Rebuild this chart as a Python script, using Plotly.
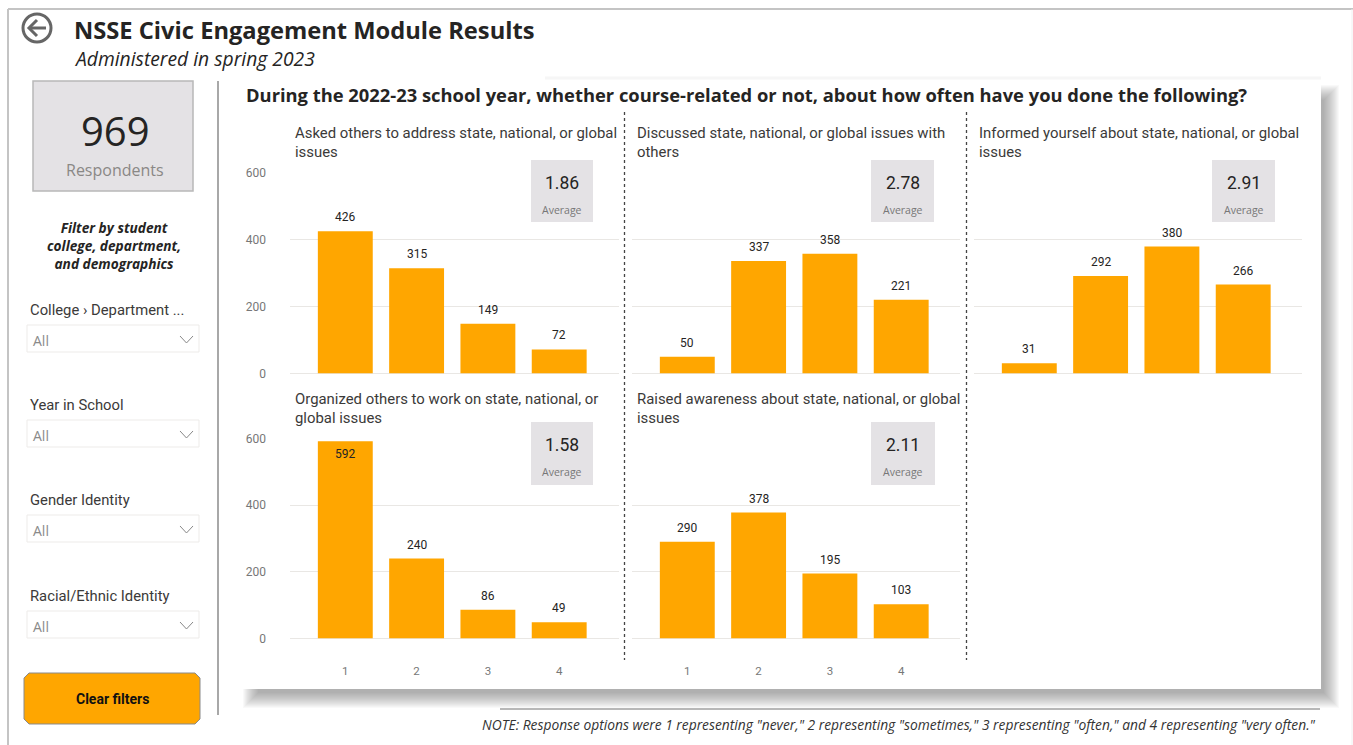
import plotly.graph_objects as go

W, H = 1353, 745
ORANGE = "#FFA600"
CARD = "#E4E2E5"
GRID = "#E9E7E4"
DARK = "#252423"

categories = [1, 2, 3, 4]
y_ticks = [0, 200, 400, 600]

asked = [426, 315, 149, 72]
discussed = [50, 337, 358, 221]
informed = [31, 292, 380, 266]
organized = [592, 240, 86, 49]
raised = [290, 378, 195, 103]

titles = [
    "Asked others to address state, national, or global<br>issues",
    "Discussed state, national, or global issues with<br>others",
    "Informed yourself about state, national, or global<br>issues",
    "Organized others to work on state, national, or<br>global issues",
    "Raised awareness about state, national, or global<br>issues",
]
averages = ["1.86", "2.78", "2.91", "1.58", "2.11"]
series = [asked, discussed, informed, organized, raised]

filters = ["College › Department ...", "Year in School", "Gender Identity", "Racial/Ethnic Identity"]
respondents = "969"
note = 'NOTE: Response options were 1 representing "never," 2 representing "sometimes," 3 representing "often," and 4 representing "very often."'

# panel geometry in page pixels: left, right, top, bottom of plot area
panels = [
    (290, 619, 173, 373.5),
    (632, 960, 173, 373.5),
    (974, 1302, 173, 373.5),
    (290, 619, 438.5, 638.5),
    (632, 960, 438.5, 638.5),
]
cards = [(531, 593, 160, 222), (871, 934, 160, 222), (1212, 1275, 160, 222),
         (531, 593, 422, 485), (871, 935, 422, 485)]

fx = lambda x: x / W
fy = lambda y: 1 - y / H

shapes, annos = [], []


def rect(x0, y0, x1, y1, fill=None, line=None, lw=1, layer="below", op=None):
    s = dict(type="rect", xref="paper", yref="paper", x0=fx(x0), x1=fx(x1), y0=fy(y0), y1=fy(y1),
             fillcolor=fill or "rgba(0,0,0,0)", line=dict(color=line or "rgba(0,0,0,0)", width=lw if line else 0),
             layer=layer)
    if op is not None:
        s["opacity"] = op
    shapes.append(s)


def seg(x0, y0, x1, y1, color, lw=1, dash="solid", layer="below"):
    shapes.append(dict(type="line", xref="paper", yref="paper", x0=fx(x0), x1=fx(x1), y0=fy(y0), y1=fy(y1),
                       line=dict(color=color, width=lw, dash=dash), layer=layer))


def path(d_pts, color, lw=1, fill=None, layer="above"):
    d = "M " + " L ".join(f"{fx(x):.5f},{fy(y):.5f}" for x, y in d_pts)
    shapes.append(dict(type="path", xref="paper", yref="paper", path=d,
                       line=dict(color=color, width=lw), fillcolor=fill or "rgba(0,0,0,0)", layer=layer))


def text(x, y, s, size, color=DARK, family="Roboto", xanchor="left", bold=False, italic=False, align=None):
    if bold:
        s = f"<b>{s}</b>"
    if italic:
        s = f"<i>{s}</i>"
    annos.append(dict(xref="paper", yref="paper", x=fx(x), y=fy(y), text=s, showarrow=False,
                      xanchor=xanchor, yanchor="middle", align=align or xanchor,
                      font=dict(size=size, color=color, family=family), borderpad=0, borderwidth=0))


# outer frame
seg(8, 9, W, 9, "#C4C4C4", 2)
seg(8, 9, 8, H, "#C4C4C4", 2)
seg(1352, 9, 1352, H, "#F0F0F0", 1)

# main card with soft shadow
for i in range(16):
    rect(243 + i, 85 + i, 1339 - i, 708 - i, fill="rgba(90,90,90,0.04)")
rect(240, 80, 1321, 689, fill="white")
seg(545, 78, 1321, 78, "#F6F6F6", 3)

# header text
text(74, 30, "NSSE Civic Engagement Module Results", 23.7, family="Open Sans", bold=True)
text(74, 58.5, "Administered in spring 2023", 19.3, family="Open Sans", italic=True)
text(246, 94.5, "During the 2022-23 school year, whether course-related or not, about how often have you done the following?",
     18.35, family="Open Sans", bold=True)

# back arrow
shapes.append(dict(type="circle", xref="paper", yref="paper", x0=fx(23), x1=fx(51), y0=fy(14), y1=fy(42),
                   line=dict(color="#666666", width=3), layer="above"))
path([(46, 28), (29, 28)], "#666666", 3)
path([(37, 20), (29, 28), (37, 36)], "#666666", 3)

# KPI
rect(33, 81, 193, 191, fill=CARD, line="#B8B8B8", lw=1.5)
text(115, 131, respondents, 40, family="Open Sans", xanchor="center")
text(115, 170, "Respondents", 16, color="#8A8886", family="Open Sans", xanchor="center")
text(114, 245, "Filter by student<br>college, department,<br>and demographics", 13.7, family="Open Sans",
     xanchor="center", bold=True, italic=True, align="center")

# slicers
for label, ly, by in zip(filters, [310, 405, 500, 596], [325, 420, 515, 611]):
    text(30, ly, label, 14.8, color="#3B3A39")
    rect(27, by, 199, by + 27, fill="white", line="#EDEBE9", lw=1)
    text(33, by + 15, "All", 14, color="#8A8A8A", family="Open Sans")
    path([(180, by + 11), (186.5, by + 18), (193, by + 11)], "#888888", 1)

# divider
seg(218, 81, 218, 715, "#A8A8A8", 2)

# button
r = 5
pts = [(24 + r, 673), (200 - r, 673), (200, 673 + r), (200, 724 - r), (200 - r, 724), (24 + r, 724), (24, 724 - r),
       (24, 673 + r), (24 + r, 673)]
path(pts, "#8A8A8A", 1, fill=ORANGE, layer="below")
text(112, 699, "Clear filters", 14, color="#111111", xanchor="center", bold=True)

# dotted dividers
seg(624.5, 112, 624.5, 660, "#444444", 1.3, dash="dot", layer="above")
seg(966.5, 112, 966.5, 660, "#444444", 1.3, dash="dot", layer="above")

# footer
seg(500, 709, 1320, 709, "#A0A0A0", 1.5)
text(1316, 724, note, 13.8, color="#333333", family="Open Sans", xanchor="right", italic=True)

# charts
fig = go.Figure()
layout_axes = {}
for i, (vals, (l, rt, t, b)) in enumerate(zip(series, panels)):
    n = "" if i == 0 else str(i + 1)
    step = 71.3
    x_lo = 1 - 55.3 / step
    x_hi = x_lo + (rt - l) / step
    fig.add_trace(go.Bar(
        x=categories, y=vals, xaxis=f"x{n}", yaxis=f"y{n}",
        marker=dict(color=ORANGE, line=dict(width=0)), width=0.77,
        cliponaxis=False, showlegend=False,
    ))
    # value labels tied to the data, above the bar (inside the top for the tallest bar)
    for c_val, v in zip(categories, vals):
        annos.append(dict(xref=f"x{n}", yref=f"y{n}", x=c_val, y=v, text=str(v), showarrow=False,
                          xanchor="center", yanchor="middle", yshift=-13 if v > 560 else 14,
                          font=dict(size=12, color="#252423", family="Roboto")))
    show_y = i in (0, 3)
    show_x = i in (3, 4)
    layout_axes[f"xaxis{n}"] = dict(
        domain=[fx(l), fx(rt)], range=[x_lo, x_hi], anchor=f"y{n}", tickvals=categories, automargin=False,
        showticklabels=show_x, showgrid=False, zeroline=False, showline=False, ticks="",
        ticklabelstandoff=24, tickfont=dict(size=11.5, color="#777777", family="Roboto"),
    )
    layout_axes[f"yaxis{n}"] = dict(
        domain=[fy(b), fy(t)], range=[0, 600], anchor=f"x{n}", tickvals=y_ticks, automargin=False,
        showticklabels=show_y, showgrid=True, gridcolor=GRID, gridwidth=1, zeroline=True, zerolinecolor=GRID,
        zerolinewidth=1, showline=False, ticks="", ticklabelstandoff=23,
        tickfont=dict(size=12, color="#777777", family="Roboto"),
    )
    text(l + 5, t - 30.5, titles[i], 14.9, color="#3B3A39")
    c = cards[i]
    rect(c[0], c[2], c[1], c[3], fill=CARD, layer="above")
    cx = (c[0] + c[1]) / 2
    text(cx, c[2] + 23, averages[i], 17.5, color="#252423", xanchor="center")
    text(cx, c[2] + 50, "Average", 10.5, color="#777777", family="Open Sans", xanchor="center")

fig.update_layout(
    width=W, height=H, margin=dict(l=0, r=0, t=0, b=0, autoexpand=False), paper_bgcolor="white",
    plot_bgcolor="rgba(0,0,0,0)", shapes=shapes, annotations=annos, bargap=0.23, font=dict(family="Roboto"),
    **layout_axes,
)

fig.write_html("out.html", config={"displayModeBar": False},
               post_script="document.body.style.margin='0';document.body.style.overflow='hidden';")
